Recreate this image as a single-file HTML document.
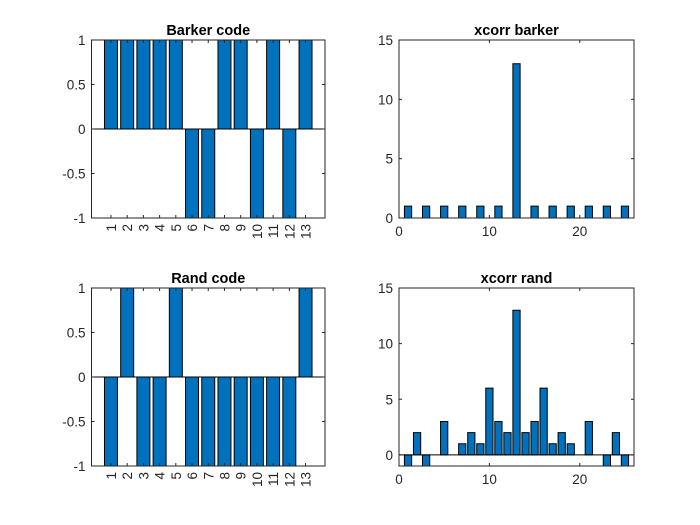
<!DOCTYPE html>
<html><head><meta charset="utf-8"><style>
body{margin:0;background:#fff;}
svg{display:block;font-family:"Liberation Sans",Arial,sans-serif;}
</style></head><body>
<svg id="fig" width="700" height="525"></svg>
<script>
const barkerCategories=[1,2,3,4,5,6,7,8,9,10,11,12,13];
const barkerValues=[1,1,1,1,1,-1,-1,1,1,-1,1,-1,1];
const randValues=[-1,1,-1,-1,1,-1,-1,-1,-1,-1,-1,-1,1];
const xcorrBarkerValues=[1,0,1,0,1,0,1,0,1,0,1,0,13,0,1,0,1,0,1,0,1,0,1,0,1];
const xcorrRandValues=[-1,2,-1,0,3,0,1,2,1,6,3,2,13,2,3,6,1,2,1,0,3,0,-1,2,-1];
const codeYTicks=[-1,-0.5,0,0.5,1];
const codeYTickLabels=["-1","-0.5","0","0.5","1"];
const xcorrXTicks=[0,10,20];
const xcorrYTicks=[0,5,10,15];

const NS="http://www.w3.org/2000/svg";
const svg=document.getElementById('fig');
function mk(tag,attrs,parent){const e=document.createElementNS(NS,tag);for(const k in attrs)e.setAttribute(k,attrs[k]);(parent||svg).appendChild(e);return e;}

function axes(opt){
  const g=mk('g',{});
  
  
  const L=opt.l,R=opt.r,T=opt.t,B=opt.b;
  const sx=v=>L+(v-opt.xmin)/(opt.xmax-opt.xmin)*(R-L);
  const sy=v=>B-(v-opt.ymin)/(opt.ymax-opt.ymin)*(B-T);
  mk('rect',{x:L,y:T,width:R-L,height:B-T,fill:'#fff'},g);
  const xs=opt.xs, bw=0.8*(sx(1)-sx(0));
  opt.vals.forEach((v,i)=>{
    const x=sx(xs[i]);const y0=sy(0),y1=sy(v);
    if(v===0)return;
    const r=mk('rect',{x:x-bw/2,y:Math.min(y0,y1),width:bw,height:Math.abs(y1-y0),fill:'#0072BD',stroke:'#000','stroke-width':1},g);
    
    
  });
  mk('line',{x1:L,x2:R,y1:sy(0),y2:sy(0),stroke:'#000','stroke-width':1},g);
  mk('rect',{x:L,y:T,width:R-L,height:B-T,fill:'none',stroke:'#262626','stroke-width':1},g);
  const tl=3;
  opt.yt.forEach((v,i)=>{
    const y=sy(v);
    mk('line',{x1:L,x2:L+tl,y1:y,y2:y,stroke:'#262626'},g);
    mk('line',{x1:R,x2:R-tl,y1:y,y2:y,stroke:'#262626'},g);
    const t=mk('text',{x:L-6,y:y+5,'text-anchor':'end','font-size':13.5,fill:'#262626'},g);
    t.textContent=opt.ytl?opt.ytl[i]:String(v);
    
    
  });
  opt.xt.forEach(v=>{
    const x=sx(v);
    mk('line',{x1:x,x2:x,y1:B,y2:B-tl,stroke:'#262626'},g);
    mk('line',{x1:x,x2:x,y1:T,y2:T+tl,stroke:'#262626'},g);
    let t;
    if(opt.rot){
      t=mk('text',{x:0,y:0,'text-anchor':'end','font-size':13.5,fill:'#262626',transform:`translate(${x+5},${B+6}) rotate(-90)`},g);
    }else{
      t=mk('text',{x:x,y:B+18,'text-anchor':'middle','font-size':13.5,fill:'#262626'},g);
    }
    t.textContent=String(v);
    
    
  });
  const tt=mk('text',{x:(L+R)/2,y:T-5,'text-anchor':'middle','font-size':14.5,'font-weight':'bold',fill:'#000'},g);
  tt.textContent=opt.title;
  
  
}
const lagIdx=xcorrBarkerValues.map((_,i)=>i+1);
axes({name:'barker-code-axes',l:91.5,r:325,t:40,b:218,xmin:-0.2,xmax:14.2,ymin:-1,ymax:1,xs:barkerCategories,vals:barkerValues,yt:codeYTicks,ytl:codeYTickLabels,xt:barkerCategories,rot:true,title:'Barker code'});
axes({name:'xcorr-barker-axes',l:399,r:634,t:40,b:218,xmin:0,xmax:26,ymin:0,ymax:15,xs:lagIdx,vals:xcorrBarkerValues,yt:xcorrYTicks,xt:xcorrXTicks,rot:false,title:'xcorr barker'});
axes({name:'rand-code-axes',l:91.5,r:325,t:288,b:466,xmin:-0.2,xmax:14.2,ymin:-1,ymax:1,xs:barkerCategories,vals:randValues,yt:codeYTicks,ytl:codeYTickLabels,xt:barkerCategories,rot:true,title:'Rand code'});
axes({name:'xcorr-rand-axes',l:399,r:634,t:288,b:466,xmin:0,xmax:26,ymin:-1,ymax:15,xs:lagIdx,vals:xcorrRandValues,yt:xcorrYTicks,xt:xcorrXTicks,rot:false,title:'xcorr rand'});
</script>
</body></html>
